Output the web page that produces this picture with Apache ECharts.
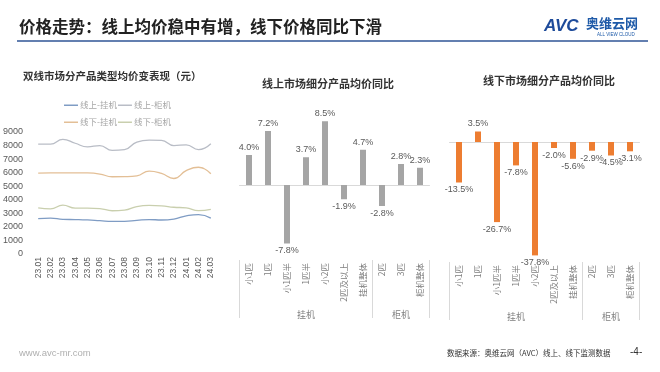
<!DOCTYPE html>
<html><head><meta charset="utf-8">
<script src="https://cdn.jsdelivr.net/npm/echarts@6/dist/echarts.min.js"></script>
<style>html,body{margin:0;padding:0;background:#fff}#c{width:660px;height:372px}</style>
</head><body><div id="c"></div>
<script>
// ---- data ----
const months = ['23.01','23.02','23.03','23.04','23.05','23.06','23.07','23.08','23.09','23.10','23.11','23.12','24.01','24.02','24.03'];
const onlineWall  = [2610,2650,2560,2540,2510,2460,2410,2410,2480,2540,2510,2580,2810,2910,2650];
const onlineFloor = [8110,8100,8450,8170,7900,8000,7650,7700,8260,8400,8380,8000,8050,7700,8130];
const offlineWall = [5970,5980,5990,5990,5980,5900,5700,5710,5760,6120,5950,5570,6150,6400,5920];
const offlineFloor= [3410,3330,3600,3380,3380,3350,3190,3240,3500,3580,3550,3450,3400,3200,3300];
const lineNames = ['线上-挂机','线上-柜机','线下-挂机','线下-柜机'];
const yTicks = [0,1000,2000,3000,4000,5000,6000,7000,8000,9000];

const segCats = ['小1匹','1匹','小1匹半','1匹半','小2匹','2匹及以上','挂机整体','2匹','3匹','柜机整体'];
const groups = ['挂机','柜机'];
const groupSizes = [7,3];
const onlineYoY  = [4.0,7.2,-7.8,3.7,8.5,-1.9,4.7,-2.8,2.8,2.3];
const offlineYoY = [-13.5,3.5,-26.7,-7.8,-37.8,-2.0,-5.6,-2.9,-4.5,-3.1];

// ---- derived ----
const groupStarts = []; const groupAxisData = segCats.map(() => '');
let s = 0;
groupSizes.forEach((n, i) => { groupStarts.push(s); groupAxisData[s + Math.floor(n / 2)] = groups[i]; s += n; });
const toBarData = arr => arr.map(v => ({ value: v, label: { position: v >= 0 ? 'top' : 'bottom' } }));

const FONT = '"Noto Sans CJK SC","Noto Sans",sans-serif';
const LAT = '"Liberation Sans", Arial, sans-serif';
const lineColors = ['#7f9cc4', '#b9bdc6', '#e3bf96', '#c9cfae'];

function segAxes(gi) {
  return [
    { gridIndex: gi, type: 'category', data: segCats,
      axisLine: { show: true, onZero: true, lineStyle: { color: '#d9d9d9', width: 1 } },
      axisTick: { show: false }, axisLabel: { show: false } },
    { gridIndex: gi, type: 'category', data: segCats, position: 'bottom',
      axisLine: { show: false, onZero: false }, axisTick: { show: false },
      axisLabel: { interval: 0, rotate: 90, margin: 3, fontSize: 8.5, color: '#7f7f7f', fontFamily: FONT } },
    { gridIndex: gi, type: 'category', data: groupAxisData, position: 'bottom',
      axisLine: { show: false, onZero: false },
      axisTick: { show: true, length: 58, interval: (idx) => groupStarts.indexOf(idx) >= 0,
                  lineStyle: { color: '#d9d9d9', width: 1 } },
      axisLabel: { interval: 0, margin: 50, fontSize: 9, color: '#7f7f7f', fontFamily: FONT } }
  ];
}

const barLabel = { show: true, fontSize: 9, color: '#595959', distance: 3, fontFamily: LAT,
  formatter: p => p.value.toFixed(1) + '%' };

const legendBase = { left: 59, itemGap: 1, itemWidth: 14, itemHeight: 1.5, icon: 'rect',
  textStyle: { fontSize: 8.5, color: '#a6a6a6', fontFamily: FONT, padding: [0, 0, 0, -3] } };

const option = {
  animation: false,
  backgroundColor: '#fff',
  textStyle: { fontFamily: FONT },
  title: [
    { text: '价格走势：线上均价稳中有增，线下价格同比下滑', left: 19, top: 18, padding: 0,
      textStyle: { fontSize: 16.5, fontWeight: 'bold', color: '#222', fontFamily: FONT } },
    { text: '双线市场分产品类型均价变表现（元）', left: 23, top: 71, padding: 0,
      textStyle: { fontSize: 10.5, fontWeight: 'bold', color: '#333', fontFamily: FONT } },
    { text: '线上市场细分产品均价同比', left: 262, top: 78, padding: 0,
      textStyle: { fontSize: 11, fontWeight: 'bold', color: '#333', fontFamily: FONT } },
    { text: '线下市场细分产品均价同比', left: 483, top: 75, padding: 0,
      textStyle: { fontSize: 11, fontWeight: 'bold', color: '#333', fontFamily: FONT } },
    { text: 'www.avc-mr.com', left: 19, top: 348, padding: 0,
      textStyle: { fontSize: 9.5, fontWeight: 'normal', color: '#b0b0b0', fontFamily: LAT } },
    { text: '数据来源：奥维云网（AVC）线上、线下监测数据', left: 447, top: 349, padding: 0,
      textStyle: { fontSize: 7.5, fontWeight: 'normal', color: '#333', fontFamily: FONT } },
    { text: '-4-', left: 630, top: 347, padding: 0,
      textStyle: { fontSize: 10, fontWeight: 'normal', color: '#333', fontFamily: LAT } }
  ],
  legend: [
    Object.assign({ data: lineNames.slice(0, 2), top: 96 }, legendBase),
    Object.assign({ data: lineNames.slice(2, 4), top: 113 }, legendBase)
  ],
  graphic: [
    { type: 'line', shape: { x1: 17, y1: 41, x2: 648, y2: 41 }, style: { stroke: '#2f5496', lineWidth: 1.5 } },
    { type: 'text', x: 544, y: 26, style: { text: 'AVC', font: 'italic bold 17px "Liberation Sans", Arial, sans-serif', fill: '#1e4b9a', verticalAlign: 'middle' } },
    { type: 'text', x: 586, y: 23, style: { text: '奥维云网', font: 'bold 13px "Noto Sans CJK SC", sans-serif', fill: '#1e5aa8', verticalAlign: 'middle' } },
    { type: 'text', x: 597, y: 35, style: { text: 'ALL VIEW CLOUD', font: '4.5px "Liberation Sans", Arial, sans-serif', fill: '#1e5aa8', verticalAlign: 'middle' } }
  ],
  grid: [
    { left: 31, top: 132, width: 186, height: 122 },
    { left: 239.5, top: 110, width: 190, height: 150 },
    { left: 449.5, top: 112, width: 190, height: 150 }
  ],
  xAxis: [
    { gridIndex: 0, type: 'category', data: months, boundaryGap: true,
      axisLine: { show: false }, axisTick: { show: false },
      axisLabel: { interval: 0, rotate: 90, margin: 3, fontSize: 8.5, color: '#595959', fontFamily: LAT } },
    ...segAxes(1),
    ...segAxes(2)
  ],
  yAxis: [
    { gridIndex: 0, type: 'value', min: yTicks[0], max: yTicks[yTicks.length - 1], interval: yTicks[1] - yTicks[0],
      axisLine: { show: false }, axisTick: { show: false }, splitLine: { show: false },
      axisLabel: { margin: 9, fontSize: 9, color: '#595959', fontFamily: LAT, formatter: v => String(v) } },
    { gridIndex: 1, type: 'value', min: -10, max: 10, show: false },
    { gridIndex: 2, type: 'value', min: -40, max: 10, show: false }
  ],
  series: [
    ...[onlineWall, onlineFloor, offlineWall, offlineFloor].map((d, i) => ({
      name: lineNames[i], type: 'line', xAxisIndex: 0, yAxisIndex: 0, data: d, smooth: true,
      symbol: 'none', lineStyle: { width: 1.3, color: lineColors[i] }, itemStyle: { color: lineColors[i] }
    })),
    { type: 'bar', xAxisIndex: 1, yAxisIndex: 1, data: toBarData(onlineYoY), barWidth: 6,
      itemStyle: { color: '#a5a5a5' }, label: barLabel },
    { type: 'bar', xAxisIndex: 4, yAxisIndex: 2, data: toBarData(offlineYoY), barWidth: 6,
      itemStyle: { color: '#ed7d31' }, label: barLabel }
  ]
};
const chart = echarts.init(document.getElementById('c'), null, { renderer: 'canvas' });
chart.setOption(option);
</script>
</body></html>
